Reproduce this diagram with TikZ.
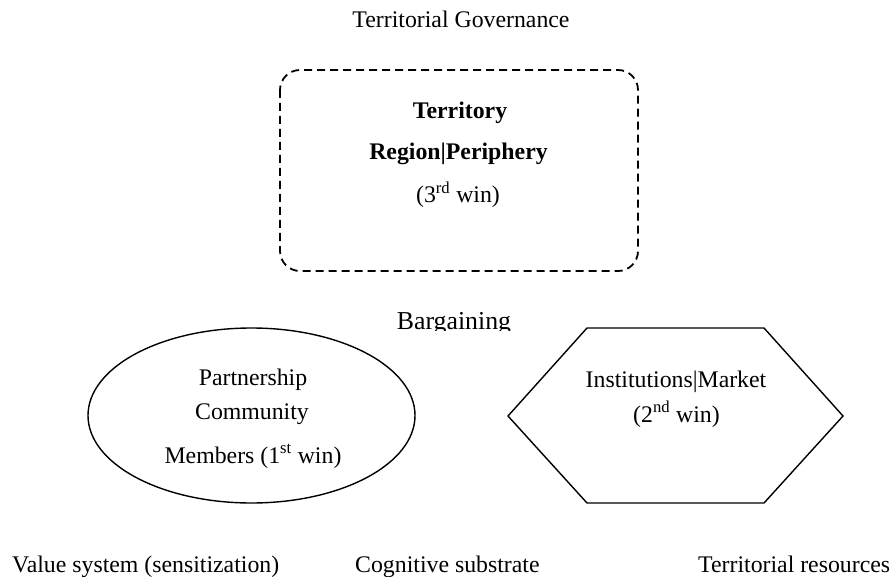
\documentclass[tikz,border=0pt]{standalone}
\usepackage{fontspec}
\setmainfont{Liberation Serif}
\usetikzlibrary{shapes.geometric}
\tikzset{
  txt/.style={anchor=base, inner sep=0pt, font=\fontsize{23.8pt}{28pt}\selectfont},
  bigtxt/.style={anchor=base, inner sep=0pt, font=\fontsize{25.8pt}{30pt}\selectfont},
  boldtxt/.style={txt, font=\fontsize{23.8pt}{28pt}\selectfont\bfseries},
  outline/.style={draw=black, line width=1.4pt},
  dashbox/.style={draw=black, line width=1.8pt, dash pattern=on 8pt off 5pt, rounded corners=20pt}
}
\begin{document}
\begin{tikzpicture}[x=1pt, y=-1pt]
\useasboundingbox (0,0) rectangle (893,577);

\node[txt] (gov) at (461,28) {Territorial Governance};

\draw[dashbox] (280,70) rectangle (638,271);
\node[boldtxt] (terr) at (460,118.3) {Territory};
\node[boldtxt] (reg) at (458.5,160) {Region|Periphery};
\node[txt] (third) at (458,202.7) {(3\textsuperscript{rd} win)};

\begin{scope}
  \clip (0,0) rectangle (893,330);
  \node[bigtxt] (barg) at (454,329) {Bargaining};
\end{scope}

\node[outline, ellipse, minimum width=327pt, minimum height=175pt, inner sep=0pt] (ell) at (251.5,415.5) {};
\node[txt] (part) at (253,385) {Partnership};
\node[txt] (comm) at (252,419.5) {Community};
\node[txt] (memb) at (253,463) {Members (1\textsuperscript{st} win)};

\coordinate (h1) at (508,416);
\coordinate (h2) at (587,328);
\coordinate (h3) at (764,328);
\coordinate (h4) at (843,416);
\coordinate (h5) at (764,503);
\coordinate (h6) at (587,503);
\draw[outline, line join=miter] (h1) -- (h2) -- (h3) -- (h4) -- (h5) -- (h6) -- cycle;
\node[txt] (inst) at (676,387) {Institutions|Market};
\node[txt] (second) at (676.5,422) {(2\textsuperscript{nd} win)};

\node[txt, anchor=base west] (val) at (12,572) {Value system (sensitization)};
\node[txt, anchor=base west] (cog) at (355,572) {Cognitive substrate};
\node[txt, anchor=base west] (res) at (698,572) {Territorial resources};
\end{tikzpicture}
\end{document}
